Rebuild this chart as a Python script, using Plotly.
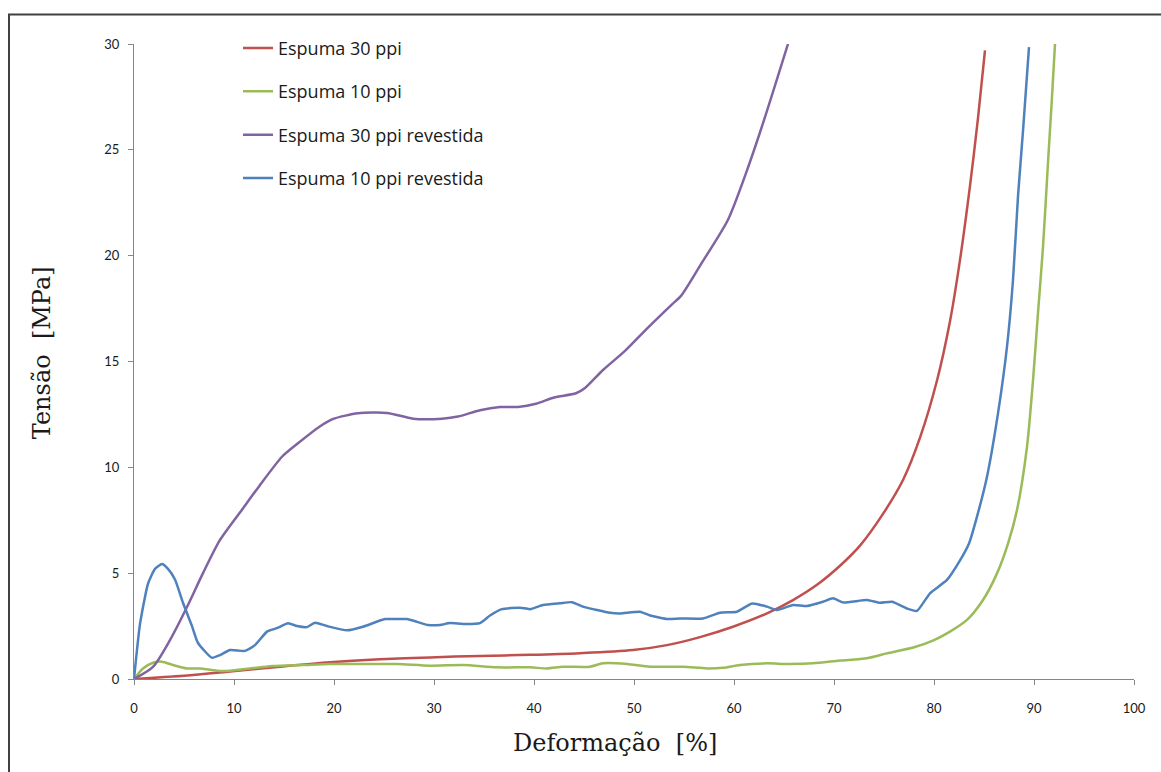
import plotly.graph_objects as go

# Stress-strain curves (Deformação [%] vs Tensão [MPa])
names = ["Espuma 30 ppi", "Espuma 10 ppi", "Espuma 30 ppi revestida", "Espuma 10 ppi revestida"]
colors = ["#C0504D", "#9BBB59", "#8064A2", "#4F81BD"]

red_x = [0, 5, 9.6, 14.6, 19.6, 24.6, 29.6, 34.6, 39.6, 44.6, 49.9, 53.3, 56.6, 59.9, 63.3,
         65.9, 68.3, 70.6, 72.6, 74.9, 76.9, 78.6, 80.3, 81.6, 82.6, 83.6, 84.4, 85.1]
red_y = [0, 0.15, 0.35, 0.58, 0.79, 0.93, 1.02, 1.09, 1.14, 1.22, 1.37, 1.6, 1.98, 2.47, 3.1,
         3.73, 4.45, 5.35, 6.3, 7.8, 9.4, 11.4, 14.1, 16.9, 19.8, 23.3, 26.5, 29.7]

green_x = [0, 0.9, 1.9, 2.8, 3.9, 5.3, 6.6, 8.3, 9.6, 11.6, 13.9, 16.9, 19.6, 22.9, 26.3, 29.6,
           32.9, 36.3, 39.6, 41.3, 42.9, 45.6, 46.9, 49.3, 51.6, 54.9, 57.3, 58.9, 60.6, 63.3,
           65.3, 67.9, 70.6, 73.3, 75.3, 78.0, 80.0, 81.6, 83.3, 84.9, 86.3, 87.4, 88.3, 89.3,
           89.9, 90.4, 90.9, 91.4, 91.8, 92.1]
green_y = [0, 0.5, 0.77, 0.82, 0.66, 0.5, 0.5, 0.39, 0.39, 0.5, 0.61, 0.66, 0.71, 0.71, 0.71, 0.63,
           0.66, 0.55, 0.55, 0.5, 0.58, 0.58, 0.74, 0.71, 0.58, 0.58, 0.5, 0.53, 0.66, 0.74,
           0.71, 0.74, 0.87, 0.98, 1.21, 1.5, 1.84, 2.24, 2.79, 3.73, 4.99, 6.4, 7.98, 10.97,
           14.1, 17.3, 20.4, 24.4, 27.5, 30.0]

purple_x = [0, 1.9, 3.6, 5.3, 6.9, 8.6, 10.8, 12.5, 14.8, 16.3, 18.8, 20.0, 22.4, 25.3, 27.9,
            30.8, 32.4, 34.6, 36.6, 38.4, 40.2, 42.0, 44.2, 45.1, 46.9, 49.1, 51.4, 53.8, 54.7,
            56.7, 59.4, 61.2, 63.0, 65.4]
purple_y = [0, 0.57, 1.84, 3.4, 5.0, 6.57, 8.0, 9.1, 10.5, 11.1, 12.0, 12.3, 12.55, 12.57, 12.3,
            12.3, 12.4, 12.7, 12.85, 12.85, 13.0, 13.3, 13.5, 13.75, 14.6, 15.5, 16.6, 17.7, 18.1,
            19.6, 21.7, 23.9, 26.4, 30.0]

blue_x = [0, 0.6, 1.4, 2.1, 2.8, 3.4, 4.1, 4.9, 5.8, 6.4, 7.8, 8.6, 9.6, 11.1, 12.1, 13.3, 14.3,
          15.4, 16.3, 17.3, 18.1, 19.3, 21.3, 22.9, 25.1, 26.3, 27.3, 28.3, 29.4, 30.6, 31.6,
          32.9, 34.6, 35.6, 36.8, 38.6, 39.6, 40.9, 42.6, 43.8, 44.9, 46.3, 47.6, 48.6, 50.6,
          51.6, 53.4, 54.6, 56.9, 58.6, 60.3, 61.8, 63.3, 64.3, 65.9, 67.3, 68.9, 69.9, 70.9,
          73.3, 74.6, 75.8, 77.3, 78.3, 79.6, 81.3, 82.6, 83.5, 84.3, 85.3, 86.4, 87.3, 87.9,
          88.4, 88.9, 89.5]
blue_y = [0, 2.6, 4.5, 5.2, 5.43, 5.2, 4.7, 3.6, 2.5, 1.7, 1.0, 1.13, 1.37, 1.33, 1.6, 2.24, 2.4,
          2.63, 2.5, 2.45, 2.66, 2.5, 2.3, 2.47, 2.83, 2.83, 2.83, 2.7, 2.55, 2.55, 2.64,
          2.6, 2.64, 3.0, 3.3, 3.37, 3.3, 3.5, 3.58, 3.63, 3.42, 3.26, 3.13, 3.1, 3.18,
          3.0, 2.83, 2.86, 2.86, 3.13, 3.18, 3.57, 3.42, 3.26, 3.5, 3.45, 3.65, 3.81, 3.62,
          3.73, 3.6, 3.65, 3.33, 3.22, 4.05, 4.68, 5.6, 6.4, 7.67, 9.56, 12.55, 15.7, 18.85,
          22.8, 25.9, 29.85]

x_ticks = [0, 10, 20, 30, 40, 50, 60, 70, 80, 90, 100]
y_ticks = [0, 5, 10, 15, 20, 25, 30]

series = [
    (red_x, red_y, 0.9),
    (green_x, green_y, 0.7),
    (purple_x, purple_y, 0.7),
    (blue_x, blue_y, 0.5),
]

fig = go.Figure()
for (xs, ys, smooth), name, color in zip(series, names, colors):
    fig.add_trace(go.Scatter(
        x=xs, y=ys, mode="lines", name=name, legendgroup=name,
        line=dict(color=color, width=2.5, shape="spline", smoothing=smooth),
    ))

axis_common = dict(
    showline=True, linecolor="#868686", linewidth=1,
    ticks="outside", ticklen=5, tickcolor="#868686", tickwidth=1,
    showgrid=False, zeroline=False,
    tickfont=dict(family="Lato", size=13, color="#1a1a1a"),
)

fig.update_layout(
    width=1161, height=772,
    margin=dict(l=134, r=27, t=44, b=93),
    paper_bgcolor="white", plot_bgcolor="white",
    xaxis=dict(range=[0, 100], tickvals=x_ticks, ticklabelstandoff=12, **axis_common),
    yaxis=dict(range=[0, 30], tickvals=y_ticks, ticklabelstandoff=6, **axis_common),
    legend=dict(
        x=0.104, y=1.0225, xanchor="left", yanchor="top",
        font=dict(family="Open Sans", size=18, color="#1a1a1a"),
        bgcolor="rgba(0,0,0,0)", tracegroupgap=17, traceorder="grouped",
    ),
    showlegend=True,
    annotations=[
        dict(text="Deformação  [%]", x=0.481, y=-0.101, xref="paper", yref="paper",
             showarrow=False, xanchor="center", yanchor="middle",
             font=dict(family="DejaVu Serif", size=24, color="#1a1a1a")),
        dict(text="Tensão  [MPa]", x=-0.092, y=0.513, xref="paper", yref="paper",
             showarrow=False, xanchor="center", yanchor="middle", textangle=-90,
             font=dict(family="DejaVu Serif", size=24, color="#1a1a1a")),
    ],
    shapes=[
        dict(type="path", xref="paper", yref="paper",
             path="M -0.125,-0.2 L -0.125,1.0465 L 1.2,1.0465",
             line=dict(color="#404040", width=2)),
    ],
)

fig.write_html("out.html")
